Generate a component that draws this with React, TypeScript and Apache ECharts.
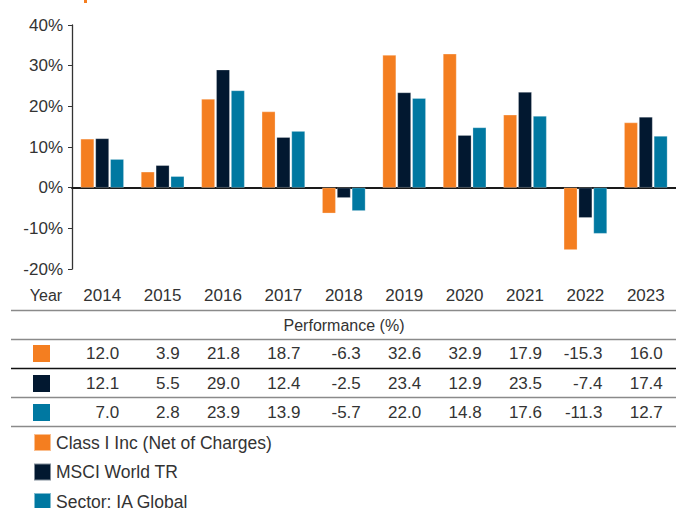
import React, { useEffect, useRef } from "react";
import * as echarts from "echarts";

const years = ["2014", "2015", "2016", "2017", "2018", "2019", "2020", "2021", "2022", "2023"];
const classI = [12.0, 3.9, 21.8, 18.7, -6.3, 32.6, 32.9, 17.9, -15.3, 16.0];
const msci = [12.1, 5.5, 29.0, 12.4, -2.5, 23.4, 12.9, 23.5, -7.4, 17.4];
const sector = [7.0, 2.8, 23.9, 13.9, -5.7, 22.0, 14.8, 17.6, -11.3, 12.7];
const seriesNames = ["Class I Inc (Net of Charges)", "MSCI World TR", "Sector: IA Global"];
const colors = ["#F47E20", "#021830", "#0078A1"];
const yTicks = [-20, -10, 0, 10, 20, 30, 40];

const FONT = "Liberation Sans, Arial, Helvetica, sans-serif";
const TXT = "#333333";
const NUM = 17;

export default function App() {
  const ref = useRef<HTMLDivElement>(null);
  useEffect(() => {
    if (!ref.current) return;
    const chart = echarts.init(ref.current, undefined, { renderer: "svg" });
    const rows = [classI, msci, sector];
    const rowMargins = [84, 114, 143];
    const gridBottomY = 269;
    const rowAxes = rows.map((row, k) => ({
      type: "category",
      data: years,
      gridIndex: 0,
      position: "bottom",
      axisLine: { show: false, onZero: false },
      axisTick: { show: false },
      axisLabel: {
        margin: rowMargins[k],
        verticalAlign: "middle",
        formatter: (_v: string, i: number) => `{a|${row[i].toFixed(1)}}`,
        rich: { a: { width: 34, align: "right", fontSize: NUM, fontFamily: FONT, color: TXT } },
      },
    }));
    const hLines = [
      { y: 310.5, c: "#8a8a8a" },
      { y: 339.5, c: "#8a8a8a" },
      { y: 368.5, c: "#111111" },
      { y: 397.5, c: "#8a8a8a" },
      { y: 426.5, c: "#8a8a8a" },
    ];
    const squareY = [345, 375, 404];
    chart.setOption({
      animation: false,
      grid: { left: 72, top: 25, right: 0, bottom: 508 - gridBottomY, containLabel: false },
      xAxis: [
        {
          type: "category",
          data: years,
          position: "bottom",
          axisLine: { show: false, onZero: false },
          axisTick: { show: false },
          axisLabel: { margin: 26, verticalAlign: "middle", fontSize: NUM, fontFamily: FONT, color: TXT },
        },
        {
          type: "category",
          data: years,
          axisLine: { show: true, onZero: true, lineStyle: { color: "#1a1a1a", width: 2 } },
          axisTick: { show: false },
          axisLabel: { show: false },
        },
        ...rowAxes,
      ],
      yAxis: {
        type: "value",
        min: -20,
        max: 40,
        interval: 10,
        axisLine: { show: true, lineStyle: { color: "#333", width: 1.3 } },
        axisTick: { show: true, length: 4, lineStyle: { color: "#333" } },
        splitLine: { show: false },
        axisLabel: {
          margin: 9,
          fontSize: NUM,
          fontFamily: FONT,
          color: TXT,
          formatter: (v: number) => (yTicks.includes(v) ? `${v}%` : ""),
        },
      },
      legend: {
        orient: "vertical",
        left: 33,
        top: 433,
        height: 120,
        padding: 0,
        itemWidth: 17,
        itemHeight: 17,
        itemGap: 10.5,
        icon: "rect",
        data: seriesNames,
        textStyle: { fontSize: 17.5, fontFamily: FONT, color: TXT },
        selectedMode: false,
      },
      series: [classI, msci, sector].map((d, i) => ({
        type: "bar",
        name: seriesNames[i],
        data: d,
        xAxisIndex: 0,
        barWidth: 13.5,
        barGap: "10%",
        itemStyle: { color: colors[i], borderColor: "rgba(255,255,255,0.5)", borderWidth: 0.5 },
      })),
      graphic: [
        { type: "rect", shape: { x: 84, y: 0, width: 3, height: 3 }, style: { fill: colors[0] } },
        {
          type: "text",
          x: 46,
          y: 295,
          style: { text: "Year", fontSize: 16, fontFamily: FONT, fill: TXT, align: "center", verticalAlign: "middle" },
        },
        {
          type: "text",
          x: 344,
          y: 325,
          style: {
            text: "Performance (%)",
            fontSize: 16,
            fontFamily: FONT,
            fill: TXT,
            align: "center",
            verticalAlign: "middle",
          },
        },
        ...hLines.map((l) => ({
          type: "line",
          shape: { x1: 11, y1: l.y, x2: 676, y2: l.y },
          style: { stroke: l.c, lineWidth: 1.4 },
        })),
        ...squareY.map((y, i) => ({
          type: "rect",
          shape: { x: 33, y, width: 17, height: 17 },
          style: { fill: colors[i] },
        })),
      ],
    });
    return () => chart.dispose();
  }, []);
  return <div ref={ref} style={{ width: 676, height: 508, position: "absolute", left: 0, top: 0 }} />;
}
